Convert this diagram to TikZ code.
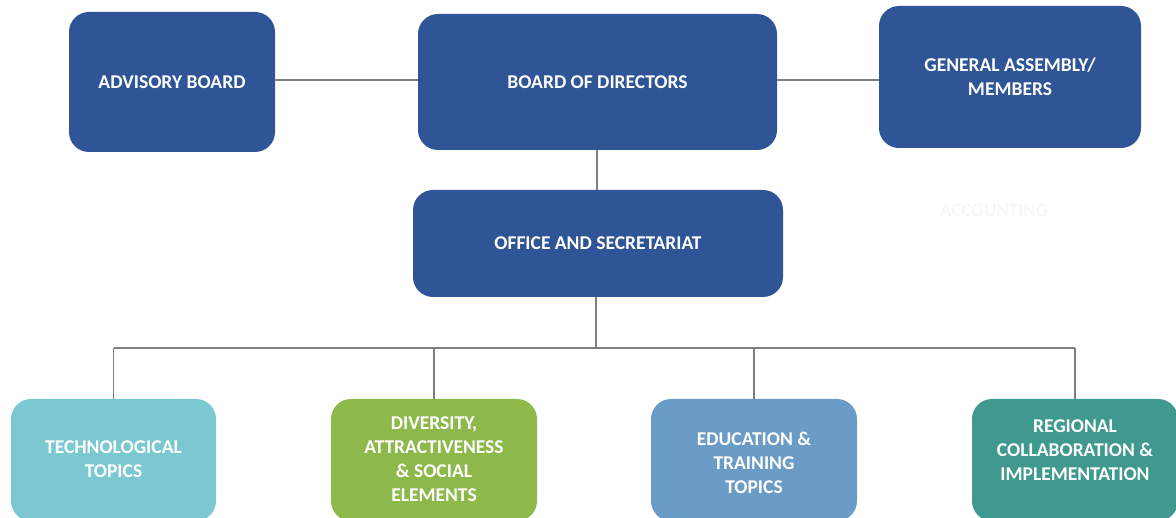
\documentclass[tikz,border=0pt]{standalone}
\usepackage{fontspec}
\setmainfont{Carlito}
\definecolor{dblue}{HTML}{2F5597}
\definecolor{lteal}{HTML}{7BC8D0}
\definecolor{lgreen}{HTML}{8DB84A}
\definecolor{mblue}{HTML}{6A9CC7}
\definecolor{dteal}{HTML}{3F998F}
\definecolor{conn}{HTML}{7F7F7F}
\begin{document}
\begin{tikzpicture}[x=1pt,y=-1pt,
  box/.style={rounded corners=20pt, draw=none, inner sep=0pt},
  lbl/.style={text=white, align=center, inner sep=0pt,
    font=\bfseries\fontsize{19.5}{24}\selectfont},
  link/.style={draw=conn, line width=1.1pt}]
\useasboundingbox (0,0) rectangle (1176,518);
\node[box, fill=dblue, minimum width=206pt, minimum height=140pt] (adv) at (172,82) {};
\node[lbl] (advt) at (adv.center) {ADVISORY BOARD};
\node[box, fill=dblue, minimum width=359pt, minimum height=136pt] (bod) at (597.5,82) {};
\node[lbl] (bodt) at (bod.center) {BOARD OF DIRECTORS};
\node[box, fill=dblue, minimum width=262pt, minimum height=142pt] (gen) at (1010,77) {};
\node[lbl] (gent) at (gen.center) {GENERAL ASSEMBLY/\\MEMBERS};
\node[text=black!3, font=\bfseries\fontsize{19}{22}\selectfont] (acc) at (994,210) {ACCOUNTING};
\node[box, fill=dblue, minimum width=370pt, minimum height=107pt] (off) at (598,243.5) {};
\node[lbl] (offt) at (off.center) {OFFICE AND SECRETARIAT};
\node[box, fill=lteal, minimum width=205pt, minimum height=122pt] (tech) at (113.5,460) {};
\node[lbl] (techt) at ([yshift=1pt]tech.center) {TECHNOLOGICAL\\TOPICS};
\node[box, fill=lgreen, minimum width=206pt, minimum height=122pt] (div) at (434,460) {};
\node[lbl] (divt) at ([yshift=1pt]div.center) {DIVERSITY,\\ATTRACTIVENESS\\\& SOCIAL\\ELEMENTS};
\node[box, fill=mblue, minimum width=206pt, minimum height=122pt] (edu) at (754,460) {};
\node[lbl] (edut) at ([yshift=-3pt]edu.center) {EDUCATION \&\\TRAINING\\TOPICS};
\node[box, fill=dteal, minimum width=206pt, minimum height=122pt] (reg) at (1075,460) {};
\node[lbl] (regt) at ([yshift=10pt]reg.center) {REGIONAL\\COLLABORATION \&\\IMPLEMENTATION};
\coordinate (bus) at (596,348);
\draw[link] (adv.east |- 0,80) -- (bod.west |- 0,80);
\draw[link] (bod.east |- 0,80) -- (gen.west |- 0,80);
\draw[link] (bod.south -| 597,0) -- (off.north -| 597,0);
\draw[link] (off.south -| bus) -- (bus);
\draw[link] (tech.north |- bus) -- (reg.north |- bus);
\draw[link] (tech.north |- bus) -- (tech.north);
\draw[link] (div.north |- bus) -- (div.north);
\draw[link] (edu.north |- bus) -- (edu.north);
\draw[link] (reg.north |- bus) -- (reg.north);
\end{tikzpicture}
\end{document}
